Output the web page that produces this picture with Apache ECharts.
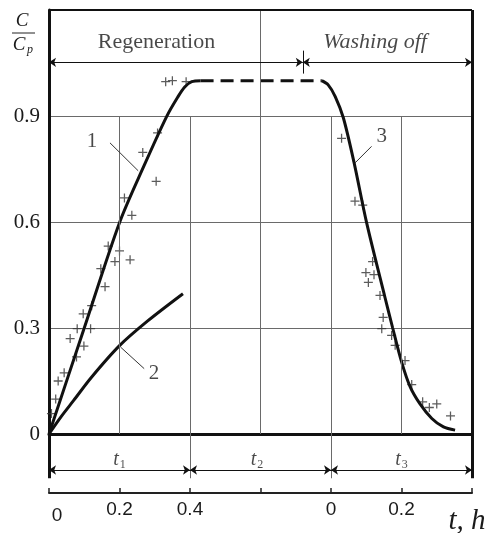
<!DOCTYPE html>
<html>
<head>
<meta charset="utf-8">
<script src="https://cdn.jsdelivr.net/npm/echarts@6/dist/echarts.min.js"></script>
<style>
  html, body { margin: 0; background: #fff; }
  #chart { width: 488px; height: 533px; }
</style>
</head>
<body>
<div id="chart"></div>
<script>
// tick labels (bottom axis every 0.2, left axis every 0.3)
const xTickLabels = ['0', '0.2', '0.4', '', '0', '0.2', ''];
const yTickLabels = ['0', '0.3', '0.6', '0.9', ''];

// curves (x in the running time scale, y = C/Cp)
const curve1 = [[0, 0], [0.1, 0.3], [0.2, 0.598], [0.27, 0.76], [0.334, 0.899], [0.365, 0.953], [0.385, 0.982], [0.405, 0.997], [0.43, 1.0]];
const plateau = [[0.43, 1.0], [0.774, 1.0]];
const curve3 = [[0.774, 1.0], [0.792, 0.988], [0.812, 0.955], [0.835, 0.895], [0.865, 0.77], [0.901, 0.598], [0.953, 0.387], [0.975, 0.3], [1.0, 0.205], [1.024, 0.135], [1.052, 0.086], [1.086, 0.044], [1.119, 0.02], [1.152, 0.011]];
const curve2 = [[0, 0], [0.035, 0.05], [0.07, 0.095], [0.12, 0.16], [0.2, 0.25], [0.28, 0.32], [0.38, 0.397]];

// experimental points
const points1 = [[0.331, 0.997], [0.350, 1.0], [0.389, 0.997], [0.308, 0.852], [0.266, 0.797], [0.304, 0.715], [0.214, 0.668], [0.235, 0.619], [0.168, 0.532], [0.2, 0.518], [0.187, 0.488], [0.23, 0.493], [0.147, 0.468], [0.159, 0.417], [0.121, 0.363], [0.097, 0.34], [0.080, 0.298], [0.118, 0.298], [0.060, 0.27], [0.099, 0.249], [0.078, 0.218], [0.043, 0.173], [0.026, 0.15], [0.019, 0.099], [0.007, 0.058]];
const points3 = [[0.830, 0.837], [0.868, 0.659], [0.890, 0.648], [0.918, 0.488], [0.899, 0.457], [0.922, 0.451], [0.906, 0.429], [0.939, 0.392], [0.948, 0.33], [0.944, 0.298], [0.972, 0.279], [0.982, 0.251], [1.01, 0.208], [1.029, 0.14], [1.06, 0.091], [1.079, 0.075], [1.1, 0.085], [1.139, 0.051]];

// annotations
const curveLabels = [[0.122, 0.828, '1'], [0.298, 0.171, '2'], [0.944, 0.842, '3']];
const leaders = [[[0.173, 0.824], [0.253, 0.745]], [[0.203, 0.246], [0.27, 0.185]], [[0.915, 0.814], [0.868, 0.767]]];
const phaseLabels = [[0.305, 1.11, 'Regeneration', 'normal'], [0.925, 1.11, 'Washing off', 'italic']];
const phaseSplit = 0.72;
const periodBounds = [0, 0.4, 0.8, 1.2];
const periodLabels = [[0.2, 0.56, '1'], [0.59, 0.56, '2'], [1.0, 0.56, '3']];

const SERIF = 'Liberation Serif';
const SANS = 'Liberation Sans';
const INK = '#111';
const TEXT = '#1a1a1a';
const GRIDC = '#6a6a6a';

const plus = 'path://M4.3,0H5.7V4.3H10V5.7H5.7V10H4.3V5.7H0V4.3H4.3Z';

function seg(a, b, style) {
  return [{ coord: a, lineStyle: style }, { coord: b }];
}

// lines inside the plot
const plotLines = [];
[0.2, 0.4, 0.8, 1.0].forEach(x => plotLines.push(seg([x, 0], [x, 0.9], { color: GRIDC, width: 1, type: 'solid' })));
plotLines.push(seg([0.6, 0], [0.6, 1.2], { color: GRIDC, width: 1, type: 'solid' }));
plotLines.push(seg([0, 1.2], [1.2, 1.2], { color: INK, width: 2, type: 'solid' }));
plotLines.push(seg([1.2, 0], [1.2, 1.2], { color: INK, width: 3, type: 'solid' }));
plotLines.push(seg([phaseSplit, 1.02], [phaseSplit, 1.085], { color: INK, width: 1, type: 'solid' }));
leaders.forEach(l => plotLines.push(seg(l[0], l[1], { color: '#333', width: 1, type: 'solid' })));

const arrowLines = [
  seg([0, 1.052], [phaseSplit, 1.052], { color: INK, width: 1, type: 'solid' }),
  seg([phaseSplit, 1.052], [1.2, 1.052], { color: INK, width: 1, type: 'solid' })
];

// lines below the plot
const lowLines = [];
periodBounds.forEach((x, i) => {
  const thick = i === 0 || i === periodBounds.length - 1;
  lowLines.push(seg([x, 0.25], [x, 1], { color: thick ? INK : GRIDC, width: thick ? 3 : 1, type: 'solid' }));
});
const lowArrows = [];
for (let i = 0; i < periodBounds.length - 1; i++) {
  lowArrows.push(seg([periodBounds[i], 0.39], [periodBounds[i + 1], 0.39], { color: INK, width: 1, type: 'solid' }));
}

const chart = echarts.init(document.getElementById('chart'));

chart.setOption({
  animation: false,
  backgroundColor: '#fff',
  grid: [
    { left: 49, right: 16, top: 10, bottom: 99 },
    { left: 49, right: 16, top: 434, bottom: 40 }
  ],
  xAxis: [
    {
      type: 'value', gridIndex: 0, min: 0, max: 1.2, interval: 0.2,
      axisLine: { show: true, lineStyle: { color: INK, width: 3 } },
      axisTick: { show: false }, axisLabel: { show: false }, splitLine: { show: false }
    },
    {
      type: 'value', gridIndex: 1, min: 0, max: 1.2, interval: 0.2,
      axisLine: { show: true, lineStyle: { color: '#222', width: 2 } },
      axisTick: { show: true, inside: true, length: 5, lineStyle: { color: '#222', width: 1.5 } },
      splitLine: { show: false },
      axisLabel: {
        margin: 7, color: TEXT, fontFamily: SANS, fontSize: 19,
        formatter: v => {
          const s = xTickLabels[Math.round(v / 0.2)] || '';
          return v === 0 ? '{z|' + s + '}' : s;
        },
        rich: { z: { fontFamily: SANS, fontSize: 19, color: TEXT, padding: [6, 0, 0, 16] } }
      }
    }
  ],
  yAxis: [
    {
      type: 'value', gridIndex: 0, min: 0, max: 1.2, interval: 0.3,
      axisLine: { show: true, lineStyle: { color: INK, width: 3 } },
      axisTick: { show: false },
      splitLine: { show: true, lineStyle: { color: GRIDC, width: 1 } },
      axisLabel: {
        margin: 9, color: TEXT, fontFamily: SERIF, fontSize: 21,
        formatter: v => yTickLabels[Math.round(v / 0.3)] || ''
      }
    },
    { type: 'value', gridIndex: 1, min: 0, max: 1, show: false }
  ],
  graphic: [
    { type: 'text', x: 22, y: 21, style: { text: 'C', font: 'italic 19px ' + SERIF, fill: TEXT, align: 'center', verticalAlign: 'middle' } },
    { type: 'line', shape: { x1: 12, y1: 33, x2: 35, y2: 33 }, style: { stroke: '#222', lineWidth: 1 } },
    { type: 'text', x: 19, y: 45, style: { text: 'C', font: 'italic 19px ' + SERIF, fill: TEXT, align: 'center', verticalAlign: 'middle' } },
    { type: 'text', x: 30, y: 50, style: { text: 'p', font: 'italic 12px ' + SERIF, fill: TEXT, align: 'center', verticalAlign: 'middle' } },
    { type: 'text', x: 467, y: 521, style: { text: 't, h', font: 'italic 29px ' + SERIF, fill: TEXT, align: 'center', verticalAlign: 'middle' } }
  ],
  series: [
    {
      name: 'frame', type: 'line', xAxisIndex: 0, yAxisIndex: 0, data: [], clip: false, silent: true,
      markLine: { silent: true, symbol: 'none', label: { show: false }, data: plotLines }
    },
    {
      name: 'phases', type: 'line', xAxisIndex: 0, yAxisIndex: 0, data: [], clip: false, silent: true,
      markLine: { silent: true, symbol: ['arrow', 'arrow'], symbolSize: 7, label: { show: false }, data: arrowLines, lineStyle: { color: INK } }
    },
    {
      name: 'below', type: 'line', xAxisIndex: 1, yAxisIndex: 1, data: [], clip: false, silent: true,
      markLine: { silent: true, symbol: 'none', label: { show: false }, data: lowLines }
    },
    {
      name: 'periods', type: 'line', xAxisIndex: 1, yAxisIndex: 1, data: [], clip: false, silent: true,
      markLine: { silent: true, symbol: ['arrow', 'arrow'], symbolSize: 7, label: { show: false }, data: lowArrows, lineStyle: { color: INK } }
    },
    {
      name: '1', type: 'line', data: curve1, smooth: 0.3, showSymbol: false, clip: false,
      lineStyle: { color: INK, width: 3 }
    },
    {
      name: 'plateau', type: 'line', data: plateau, showSymbol: false, clip: false,
      lineStyle: { color: INK, width: 3, type: [13, 7] }
    },
    {
      name: '3', type: 'line', data: curve3, smooth: 0.3, showSymbol: false, clip: false,
      lineStyle: { color: INK, width: 3 }
    },
    {
      name: '2', type: 'line', data: curve2, smooth: 0.3, showSymbol: false, clip: false,
      lineStyle: { color: INK, width: 3 }
    },
    {
      name: 'points1', type: 'scatter', data: points1, symbol: plus, symbolSize: 9,
      itemStyle: { color: '#333' }
    },
    {
      name: 'points3', type: 'scatter', data: points3, symbol: plus, symbolSize: 9,
      itemStyle: { color: '#333' }
    },
    {
      name: 'curve labels', type: 'scatter', data: curveLabels, symbolSize: 0, silent: true,
      label: { show: true, position: 'inside', formatter: p => p.value[2], fontFamily: SERIF, fontSize: 21, color: TEXT }
    },
    {
      name: 'phase labels', type: 'scatter', data: phaseLabels.map(d => ({ value: d, label: { fontStyle: d[3] } })),
      symbolSize: 0, silent: true,
      label: { show: true, position: 'inside', formatter: p => p.value[2], fontFamily: SERIF, fontSize: 22, color: TEXT }
    },
    {
      name: 'period labels', type: 'scatter', xAxisIndex: 1, yAxisIndex: 1, data: periodLabels, symbolSize: 0, silent: true,
      label: {
        show: true, position: 'inside', formatter: p => '{t|t}{s|' + p.value[2] + '}',
        rich: {
          t: { fontFamily: SERIF, fontStyle: 'italic', fontSize: 20, color: TEXT },
          s: { fontFamily: SERIF, fontSize: 12, color: TEXT, padding: [10, 0, 0, 1] }
        }
      }
    }
  ]
});
</script>
</body>
</html>
